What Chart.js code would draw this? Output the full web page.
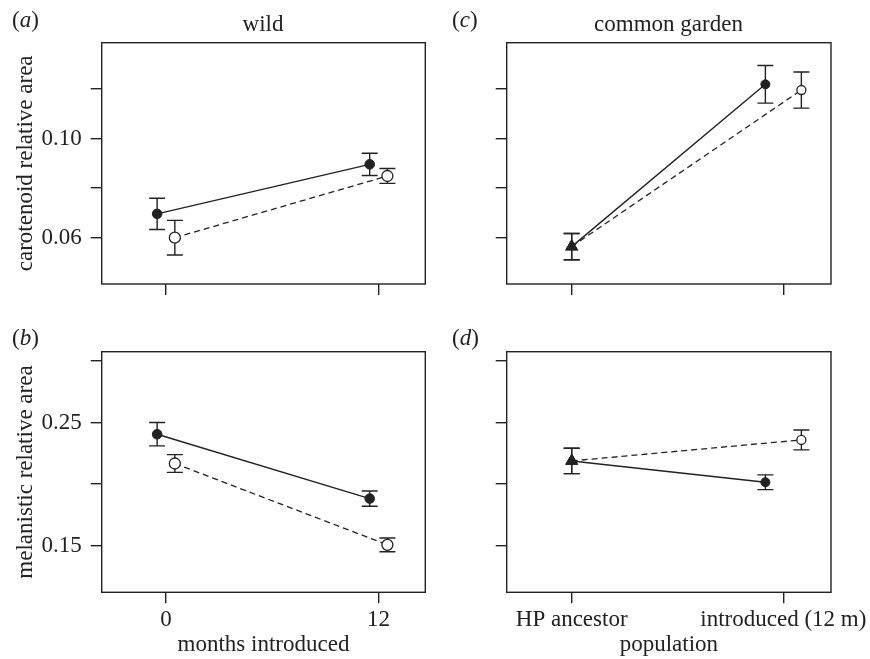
<!DOCTYPE html>
<html>
<head>
<meta charset="utf-8">
<script src="https://cdn.jsdelivr.net/npm/chart.js@4.4.1/dist/chart.umd.min.js"></script>
<style>
  body { margin: 0; background: #fff; }
  #fig { position: relative; width: 870px; height: 659px; font-family: "Liberation Serif", serif; color: #222; }
  #fig canvas { position: absolute; }
  .lbl { position: absolute; font-size: 23px; line-height: 23px; white-space: nowrap; }
  .mid { transform: translateX(-50%); }
</style>
</head>
<body>
<div id="fig">
  <canvas id="chartA" width="435" height="300" style="left:0;top:0"></canvas>
  <canvas id="chartC" width="435" height="300" style="left:435px;top:0"></canvas>
  <canvas id="chartB" width="435" height="359" style="left:0;top:300px"></canvas>
  <canvas id="chartD" width="435" height="359" style="left:435px;top:300px"></canvas>

  <div class="lbl" style="left:12px;top:7.5px">(<i>a</i>)</div>
  <div class="lbl mid" style="left:263px;top:12.4px">wild</div>
  <div class="lbl" style="left:452px;top:7.5px">(<i>c</i>)</div>
  <div class="lbl mid" style="left:668.5px;top:12.4px">common garden</div>
  <div class="lbl" style="left:12px;top:325.7px">(<i>b</i>)</div>
  <div class="lbl" style="left:452px;top:325.7px">(<i>d</i>)</div>
</div>

<script>
// x categories / ticks
const wildMonths = [0, 12];
const monthTicks = [0, 12];
const gardenGroups = ["HP ancestor", "introduced (12 m)"];
const gardenPos = [0, 1];

// y ticks
const caroTicks = [0.06, 0.08, 0.10, 0.12];
const caroLabelled = [0.06, 0.10];
const melTicks = [0.15, 0.20, 0.25, 0.30];
const melLabelled = [0.15, 0.25];

// (a) wild, carotenoid
const wildCaroFilled = [0.0696, 0.0896];
const wildCaroFilledSE = [0.0063, 0.0045];
const wildCaroOpen = [0.0600, 0.0849];
const wildCaroOpenSE = [0.0070, 0.0030];

// (b) wild, melanistic
const wildMelFilled = [0.2405, 0.1882];
const wildMelFilledSE = [0.0095, 0.0062];
const wildMelOpen = [0.2167, 0.1506];
const wildMelOpenSE = [0.0072, 0.0056];

// (c) common garden, carotenoid (ancestor, introduced)
const gardenCaroFilled = [0.0564, 0.1219];
const gardenCaroFilledSE = [0.0053, 0.0076];
const gardenCaroOpen = [0.0564, 0.1196];
const gardenCaroOpenSE = [0.0053, 0.0073];

// (d) common garden, melanistic
const gardenMelFilled = [0.2188, 0.2015];
const gardenMelFilledSE = [0.0103, 0.0060];
const gardenMelOpen = [0.2188, 0.2359];
const gardenMelOpenSE = [0.0103, 0.0081];

const ink = "#222";
const font = { family: "'Liberation Serif', serif", size: 23, lineHeight: 1.2 };

// small horizontal dodge so the two series don't overlap
const wildDodge = { filled: [-0.5, -0.5], open: [0.5, 0.5] };
const gardenDodge = { filled: [0, -0.085], open: [0, 0.085] };

function points(xs, ys, shift) {
  return xs.map((x, i) => ({ x: x + shift[i], y: ys[i] }));
}

// error bars drawn from each dataset's `errors` array
const errorBars = {
  id: "errorBars",
  beforeDatasetsDraw(chart) {
    const { ctx, scales: { x, y } } = chart;
    ctx.save();
    ctx.strokeStyle = ink;
    ctx.lineWidth = 1.4;
    chart.data.datasets.forEach((ds) => {
      ds.data.forEach((p, j) => {
        const px = x.getPixelForValue(p.x);
        const top = y.getPixelForValue(p.y + ds.errors[j]);
        const bot = y.getPixelForValue(p.y - ds.errors[j]);
        ctx.beginPath();
        ctx.moveTo(px, top); ctx.lineTo(px, bot);
        ctx.moveTo(px - 8, top); ctx.lineTo(px + 8, top);
        ctx.moveTo(px - 8, bot); ctx.lineTo(px + 8, bot);
        ctx.stroke();
      });
    });
    ctx.restore();
  }
};

// frame round the plot area
const frame = {
  id: "frame",
  afterDraw(chart) {
    const { ctx, chartArea: a } = chart;
    ctx.save();
    ctx.strokeStyle = ink;
    ctx.lineWidth = 1.4;
    ctx.strokeRect(a.left, a.top, a.right - a.left, a.bottom - a.top);
    ctx.restore();
  }
};

function makeDatasets(filled, filledSE, open, openSE, xs, dodge, garden) {
  return [
    {
      data: points(xs, filled, dodge.filled),
      errors: filledSE,
      showLine: true,
      borderColor: ink,
      borderWidth: 1.4,
      pointStyle: garden ? ["triangle", "circle"] : "circle",
      pointRadius: garden ? [6.5, 4.5] : 4.8,
      pointBackgroundColor: ink,
      pointBorderColor: ink,
      pointBorderWidth: 1
    },
    {
      data: points(xs, open, dodge.open),
      errors: openSE,
      showLine: true,
      borderColor: ink,
      borderWidth: 1.3,
      borderDash: [6, 4],
      pointStyle: garden ? ["triangle", "circle"] : "circle",
      pointRadius: garden ? [6.5, 4.5] : 5.5,
      pointBackgroundColor: garden ? [ink, "#fff"] : "#fff",
      pointBorderColor: ink,
      pointBorderWidth: 1.3
    }
  ];
}

function makeOptions(p) {
  const grid = { drawOnChartArea: false, drawTicks: true, tickLength: 11, color: ink, lineWidth: 1.4 };
  return {
    responsive: false,
    animation: false,
    layout: { padding: p.padding },
    plugins: { legend: { display: false }, tooltip: { enabled: false } },
    scales: {
      x: {
        type: "linear",
        min: p.xMin,
        max: p.xMax,
        afterBuildTicks: (s) => { s.ticks = p.xTicks.map((v) => ({ value: v })); },
        afterFit: (s) => { s.height = p.xHeight; s.paddingLeft = 0; s.paddingRight = 0; },
        grid: grid,
        border: { display: false },
        ticks: { callback: p.xLabel, padding: 3, font: font, color: ink, maxRotation: 0, minRotation: 0, autoSkip: false },
        title: { display: !!p.xTitle, text: p.xTitle || "", font: font, color: ink, padding: { top: 0, bottom: 0 } }
      },
      y: {
        type: "linear",
        min: p.yMin,
        max: p.yMax,
        afterBuildTicks: (s) => { s.ticks = p.yTicks.map((v) => ({ value: v })); },
        afterFit: (s) => { s.width = p.yWidth; s.paddingTop = 0; s.paddingBottom = 0; },
        grid: grid,
        border: { display: false },
        ticks: { callback: p.yLabel, padding: 9, font: font, color: ink, autoSkip: false },
        title: { display: !!p.yTitle, text: p.yTitle || "", font: font, color: ink, padding: { top: 11.7, bottom: 0 } }
      }
    }
  };
}

const noLabel = () => "";
const caroLabel = (v) => (caroLabelled.includes(v) ? v.toFixed(2) : "");
const melLabel = (v) => (melLabelled.includes(v) ? v.toFixed(2) : "");
const monthLabel = (v) => String(v);
const groupLabel = (v) => gardenGroups[gardenPos.indexOf(v)];

const wildX = { xMin: -3.63, xMax: 14.64, xTicks: monthTicks };
const gardenX = { xMin: -0.307, xMax: 1.225, xTicks: gardenPos };
const caroY = { yMin: 0.0413, yMax: 0.1387, yTicks: caroTicks };
const melY = { yMin: 0.112, yMax: 0.3076, yTicks: melTicks };

const panels = [
  {
    id: "chartA",
    sets: makeDatasets(wildCaroFilled, wildCaroFilledSE, wildCaroOpen, wildCaroOpenSE, wildMonths, wildDodge, false),
    opts: Object.assign({}, wildX, caroY, {
      padding: { left: 0, top: 42.7, right: 9.7, bottom: 0 },
      yWidth: 101.7, xHeight: 16, xLabel: noLabel, yLabel: caroLabel,
      yTitle: "carotenoid relative area"
    })
  },
  {
    id: "chartC",
    sets: makeDatasets(gardenCaroFilled, gardenCaroFilledSE, gardenCaroOpen, gardenCaroOpenSE, gardenPos, gardenDodge, true),
    opts: Object.assign({}, gardenX, caroY, {
      padding: { left: 0, top: 42.7, right: 39, bottom: 0 },
      yWidth: 71.7, xHeight: 16, xLabel: noLabel, yLabel: noLabel
    })
  },
  {
    id: "chartB",
    sets: makeDatasets(wildMelFilled, wildMelFilledSE, wildMelOpen, wildMelOpenSE, wildMonths, wildDodge, false),
    opts: Object.assign({}, wildX, melY, {
      padding: { left: 0, top: 51.7, right: 9.7, bottom: 0 },
      yWidth: 101.7, xHeight: 66.7, xLabel: monthLabel, yLabel: melLabel,
      yTitle: "melanistic relative area", xTitle: "months introduced"
    })
  },
  {
    id: "chartD",
    sets: makeDatasets(gardenMelFilled, gardenMelFilledSE, gardenMelOpen, gardenMelOpenSE, gardenPos, gardenDodge, true),
    opts: Object.assign({}, gardenX, melY, {
      padding: { left: 0, top: 51.7, right: 39, bottom: 0 },
      yWidth: 71.7, xHeight: 66.7, xLabel: groupLabel, yLabel: noLabel,
      xTitle: "population"
    })
  }
];

panels.forEach((p) => {
  new Chart(document.getElementById(p.id).getContext("2d"), {
    type: "scatter",
    data: { datasets: p.sets },
    options: makeOptions(p.opts),
    plugins: [errorBars, frame]
  });
});
</script>
</body>
</html>
